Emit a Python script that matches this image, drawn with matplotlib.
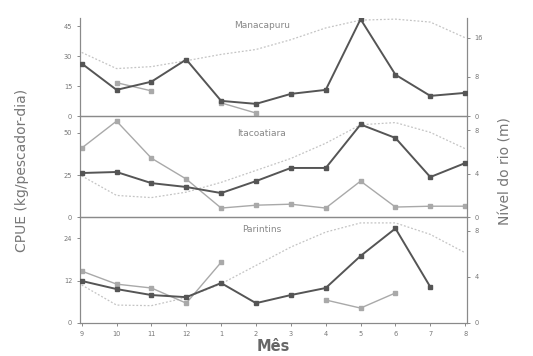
import numpy as np
import matplotlib
matplotlib.use("Agg")
import matplotlib.pyplot as plt

months = ["9", "10", "11", "12", "1", "2", "3", "4", "5", "6", "7", "8"]
nan = np.nan

# Manacapuru
mana_cpue_a = [26.3, 13.1, 17.2, 28.3, 7.6, 6.1, 11.1, 13.1, 48.5, 20.7, 10.1, 11.6]
mana_cpue_b = [nan, 16.7, 12.6, nan, 6.6, 1.5, nan, nan, nan, nan, nan, nan]
mana_rio = [13.0, 9.7, 10.1, 11.3, 12.6, 13.6, 15.6, 18.0, 19.6, 19.8, 19.2, 16.0]

# Itacoatiara
itac_cpue_a = [26.2, 26.8, 20.2, 17.9, 14.3, 21.4, 29.2, 29.2, 55.0, 47.0, 23.8, 32.1]
itac_cpue_b = [41.0, 57.0, 35.0, 22.6, 5.4, 7.1, 7.7, 5.4, 21.4, 6.0, 6.5, 6.5]
itac_rio = [3.8, 2.0, 1.8, 2.3, 3.2, 4.3, 5.4, 6.8, 8.5, 8.7, 7.8, 6.3]

# Parintins
pari_cpue_a = [11.9, 9.6, 7.9, 7.3, 11.3, 5.6, 7.9, 9.9, 19.0, 26.8, 10.2, nan]
pari_cpue_b = [14.7, 11.0, 9.9, 5.6, 17.2, nan, nan, 6.5, 4.2, 8.5, nan, nan]
pari_rio = [3.3, 1.55, 1.5, 2.2, 3.4, 5.0, 6.6, 7.9, 8.7, 8.7, 7.7, 6.1]

panels = [
    ("Manacapuru", mana_cpue_a, mana_cpue_b, mana_rio, (0, 49), [0, 15, 30, 45], (0, 20), [0, 8, 16]),
    ("Itacoatiara", itac_cpue_a, itac_cpue_b, itac_rio, (0, 60), [0, 25, 50], (0, 9.3), [0, 4, 8]),
    ("Parintins", pari_cpue_a, pari_cpue_b, pari_rio, (0, 30), [0, 12, 24], (0, 9.2), [0, 4, 8]),
]
title_y = [0.93, 0.83, 0.88]

fig = plt.figure(figsize=(5.33, 3.56), dpi=100)
left, width = 0.150, 0.726
bounds = [(0.674, 0.275), (0.390, 0.284), (0.093, 0.297)]

x = np.arange(len(months))
spine_c = "#8a8a8a"
tick_c = "#777777"

for i, ((name, a, b, rio, ylim, yt, rlim, rt), (bot, h)) in enumerate(zip(panels, bounds)):
    ax = fig.add_axes([left, bot, width, h])
    ax2 = ax.twinx()
    ax2.plot(x, rio, color="#c4c4c4", lw=0.9, ls=(0, (1.5, 1.5)), zorder=1)
    ax2.set_ylim(*rlim)
    ax2.set_yticks(rt)
    ax.set_zorder(ax2.get_zorder() + 1)
    ax.patch.set_visible(False)
    ax.plot(x, b, color="#a9a9a9", lw=1.0, marker="s", ms=2.8,
            mfc="#a9a9a9", mec="#a9a9a9", zorder=2)
    ax.plot(x, a, color="#555555", lw=1.4, marker="s", ms=3.2,
            mfc="#555555", mec="#555555", zorder=3)
    ax.set_xlim(-0.05, 11.05)
    ax.set_ylim(*ylim)
    ax.set_yticks(yt)
    ax.text(0.47, title_y[i], name, ha="center", va="center", transform=ax.transAxes,
            fontsize=6.5, color="#888888")
    for a_ in (ax, ax2):
        for s in a_.spines.values():
            s.set_color(spine_c)
            s.set_linewidth(0.8)
        a_.spines["top"].set_visible(i != 0)
        a_.tick_params(labelsize=4.8, colors=tick_c, length=2, width=0.6)
    ax.set_xticks(x)
    if i < 2:
        ax.tick_params(axis="x", labelbottom=False, length=0)
    else:
        ax.set_xticklabels(months)
        ax.set_xlabel("Mês", fontsize=10.5, fontweight="bold", color="#666666", labelpad=2)

fig.text(0.042, 0.52, "CPUE (kg/pescador-dia)", rotation=90, ha="center", va="center",
         fontsize=10, color="#777777")
fig.text(0.948, 0.52, "Nível do rio (m)", rotation=90, ha="center", va="center",
         fontsize=10, color="#777777")

fig.savefig("out.png", dpi=100, facecolor="white")
